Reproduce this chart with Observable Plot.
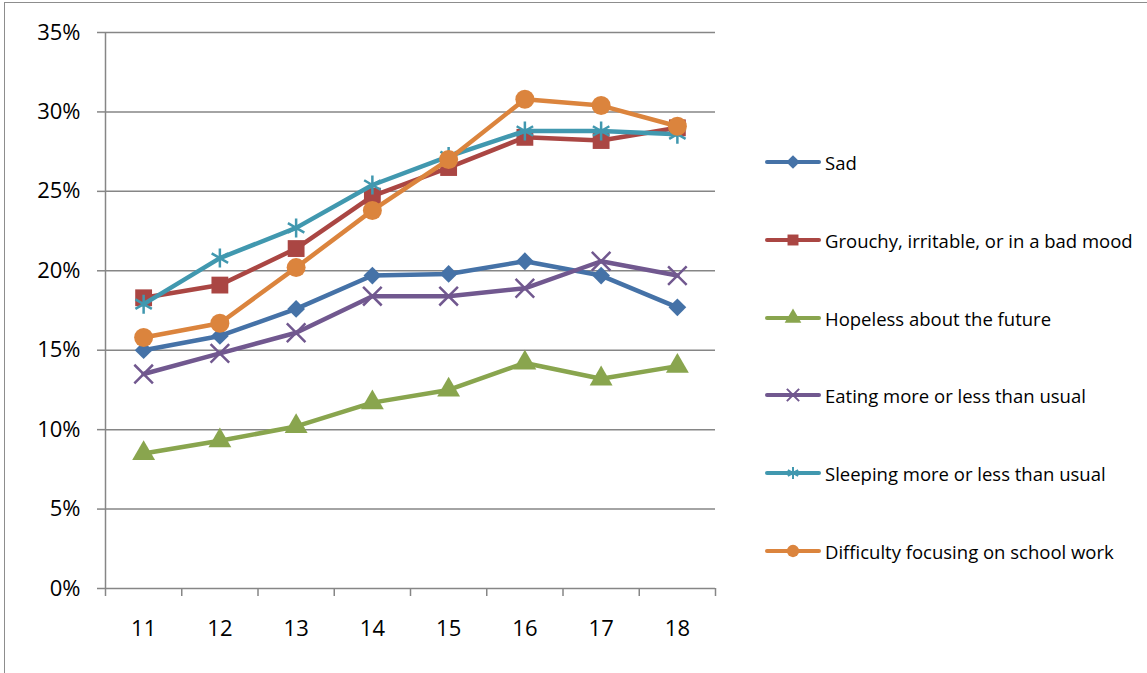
<!DOCTYPE html>
<html><head><meta charset="utf-8">
<script src="https://cdn.jsdelivr.net/npm/d3@7"></script>
<script src="https://cdn.jsdelivr.net/npm/@observablehq/plot@0.6"></script>
<style>
body{margin:0;background:#fff;font-family:"Open Sans",Lato,sans-serif}
#wrap{position:relative;width:1147px;height:673px;overflow:hidden;background:#fff}
#border{position:absolute;left:4px;top:2px;width:1300px;height:800px;border-left:1.5px solid #8d8d8d;border-top:1.5px solid #8d8d8d;box-sizing:border-box}
#chart{position:absolute;left:0;top:0}
#legend{position:absolute;left:0;top:0}
.item{position:absolute;left:765px;height:24px;display:flex;align-items:center;font-size:18.5px;color:#000;white-space:nowrap}
.item svg{display:block;margin-right:4px}
</style></head><body>
<div id="wrap"><div id="border"></div><div id="chart"></div><div id="legend"></div></div>
<script>
const ages = [11, 12, 13, 14, 15, 16, 17, 18];
const seriesNames = [
  "Sad",
  "Grouchy, irritable, or in a bad mood",
  "Hopeless about the future",
  "Eating more or less than usual",
  "Sleeping more or less than usual",
  "Difficulty focusing on school work"
];
const sad        = [15.0, 15.9, 17.6, 19.7, 19.8, 20.6, 19.7, 17.7];
const grouchy    = [18.3, 19.1, 21.4, 24.7, 26.5, 28.4, 28.2, 29.0];
const hopeless   = [8.5, 9.3, 10.2, 11.7, 12.5, 14.2, 13.2, 14.0];
const eating     = [13.5, 14.8, 16.1, 18.4, 18.4, 18.9, 20.6, 19.7];
const sleeping   = [17.9, 20.8, 22.7, 25.4, 27.2, 28.8, 28.8, 28.6];
const difficulty = [15.8, 16.7, 20.2, 23.8, 27.0, 30.8, 30.4, 29.1];
const yTicks = [0, 0.05, 0.10, 0.15, 0.20, 0.25, 0.30, 0.35];

const seriesValues = [sad, grouchy, hopeless, eating, sleeping, difficulty];
const colors = ["#4572A7", "#AA4643", "#89A54E", "#71588F", "#4198AF", "#DB843D"];
const symbols = ["diamond2", "square", "triangle", "times", "asterisk", "circle"];
const filled = [true, true, true, false, false, true];
const radii = [8, 9.5, 8.5, 8.5, 9, 9.5];

const rows = seriesValues.map((vals, i) =>
  vals.map((v, j) => ({series: seriesNames[i], age: ages[j], value: v / 100}))
);

const halves = d3.range(10.5, 18.6, 1);
const grid = "#868686";

const marks = [
  Plot.ruleY(yTicks, {stroke: grid, strokeWidth: 1.5}),
  Plot.ruleX([10.5], {stroke: grid, strokeWidth: 1.5}),
  Plot.axisY({ticks: yTicks, tickFormat: d => Math.round(d * 100) + "%", tickSize: 8, tickPadding: 17,
    stroke: grid, strokeWidth: 1.5, fontSize: 22, label: null, fill: "#000"}),
  Plot.axisX({ticks: halves, tickSize: 8, tickFormat: () => "", stroke: grid, strokeWidth: 1.5, label: null}),
  Plot.axisX({ticks: ages, tickSize: 0, tickPadding: 32, tickFormat: d => String(d), fontSize: 22, label: null, fill: "#000"})
];
rows.forEach((r, i) => {
  marks.push(Plot.line(r, {x: "age", y: "value", stroke: colors[i], strokeWidth: 4.5, strokeLinejoin: "round", strokeLinecap: "round"}));
  marks.push(Plot.dot(r, filled[i]
    ? {x: "age", y: "value", symbol: () => symbols[i], r: radii[i], fill: colors[i], stroke: "none"}
    : {x: "age", y: "value", symbol: () => symbols[i], r: radii[i], stroke: colors[i], strokeWidth: 2.5, fill: "none"}));
});

const chart = Plot.plot({
  width: 1147,
  height: 673,
  marginLeft: 105,
  marginRight: 432,
  marginTop: 32,
  marginBottom: 85,
  style: {fontFamily: "'Open Sans', Lato, sans-serif", color: "#000", background: "transparent", overflow: "visible"},
  x: {type: "linear", domain: [10.5, 18.5]},
  y: {domain: [0, 0.35]},
  symbol: {type: "identity"},
  marks
});
document.getElementById("chart").appendChild(chart);

// legend
const legend = document.getElementById("legend");
const legendY = [162, 240, 318, 395, 473, 551];
const d3sym = {diamond2: d3.symbolDiamond2, square: d3.symbolSquare, triangle: d3.symbolTriangle,
  times: d3.symbolTimes, asterisk: d3.symbolAsterisk, circle: d3.symbolCircle};
seriesNames.forEach((name, i) => {
  const item = document.createElement("div");
  item.className = "item";
  item.style.top = (legendY[i] - 12) + "px";
  const svg = d3.create("svg").attr("width", 56).attr("height", 24);
  svg.append("line").attr("x1", 2).attr("x2", 54).attr("y1", 12).attr("y2", 12)
    .attr("stroke", colors[i]).attr("stroke-width", 4).attr("stroke-linecap", "round");
  const p = svg.append("path").attr("transform", "translate(28,12)")
    .attr("d", d3.symbol(d3sym[symbols[i]], filled[i] ? 120 : 100)());
  if (filled[i]) p.attr("fill", colors[i]);
  else p.attr("fill", "none").attr("stroke", colors[i]).attr("stroke-width", 2);
  item.appendChild(svg.node());
  const t = document.createElement("span");
  t.textContent = name;
  item.appendChild(t);
  legend.appendChild(item);
});
</script>
</body></html>
